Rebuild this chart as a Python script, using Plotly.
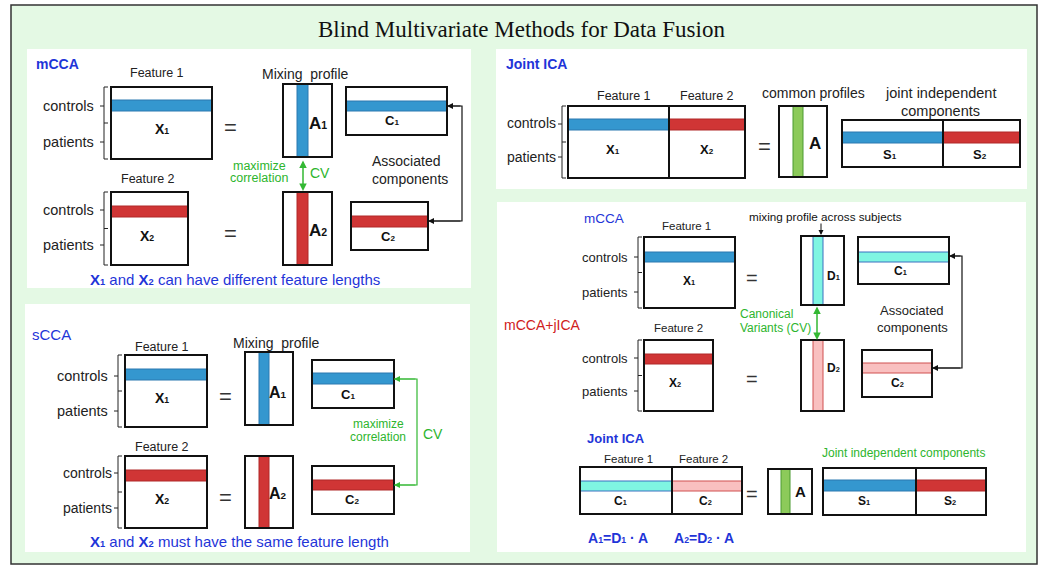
import plotly.graph_objects as go

W, H = 1050, 569
FONT = "Liberation Sans, Arial, sans-serif"
BLUE_TXT = "#1f35d8"
GREEN_TXT = "#2db52d"
RED_TXT = "#d02020"
C_BLUE = "#3497cf"
C_RED = "#d03535"
C_GREEN = "#8cca5a"
C_CYAN = "#7ff5e2"
C_PINK = "#f9c0c0"
EDGE = {C_BLUE: "#2a78b0", C_RED: "#b02828", C_GREEN: "#4a9a30", C_CYAN: "#3a70c0", C_PINK: "#d05050"}


def s(letter, digit, size):
    """Bold letter with a small baseline index digit, as in the reference."""
    return f"<b>{letter}<span style='font-size:{round(size * 0.62, 1)}px'>{digit}</span></b>"


# ---- layout data (diagram coordinates, pixels from top-left) ----
frame = (11, 5, 1037, 564)
panels = [(27, 49, 471, 288), (496, 49, 1027, 189), (25, 304, 470, 552), (497, 202, 1026, 552)]

# boxes: (x0, y0, x1, y1)
boxes = [
    (111, 87, 212, 159), (283, 84, 332, 157), (346, 87, 447, 135),
    (111, 192, 188, 265), (283, 192, 332, 265), (351, 202, 428, 250),
    (568, 106, 669, 178), (669, 106, 745, 178), (779, 106, 827, 177),
    (842, 120, 943, 167), (943, 120, 1020, 167),
    (125, 355, 207, 427), (245, 352, 293, 425), (312, 360, 394, 408),
    (125, 456, 207, 528), (245, 456, 293, 528), (312, 466, 394, 514),
    (644, 237, 735, 308), (801, 236, 844, 305), (858, 237, 949, 284),
    (644, 340, 713, 411), (801, 340, 844, 411), (862, 350, 932, 397),
    (580, 467, 672, 514), (672, 467, 742, 514), (768, 469, 812, 514),
    (823, 468, 916, 515), (916, 468, 986, 515),
]
# horizontal stripes: (x0, x1, y0, y1, colour)
hstripes = [
    (111, 212, 100, 111, C_BLUE), (346, 447, 101, 111, C_BLUE),
    (111, 188, 206, 217, C_RED), (351, 428, 216, 227, C_RED),
    (568, 669, 119, 130, C_BLUE), (669, 745, 119, 130, C_RED),
    (842, 943, 132, 143, C_BLUE), (943, 1020, 132, 143, C_RED),
    (125, 207, 369, 380, C_BLUE), (312, 394, 373, 384, C_BLUE),
    (125, 207, 470, 481, C_RED), (312, 394, 480, 490, C_RED),
    (644, 735, 252, 262, C_BLUE), (858, 949, 252, 262, C_CYAN),
    (644, 713, 354, 364, C_RED), (862, 932, 363, 373, C_PINK),
    (580, 672, 481, 491, C_CYAN), (672, 742, 481, 491, C_PINK),
    (823, 916, 480, 491, C_BLUE), (916, 986, 480, 491, C_RED),
]
# vertical stripes: (x0, x1, y0, y1, colour)
vstripes = [
    (297, 308, 84, 157, C_BLUE), (297, 308, 192, 265, C_RED),
    (793, 803, 106, 177, C_GREEN),
    (259, 269, 352, 425, C_BLUE), (259, 269, 456, 528, C_RED),
    (813, 823, 236, 305, C_CYAN), (813, 823, 340, 411, C_PINK),
    (781, 790, 469, 514, C_GREEN),
]
# brackets: (x, top, bottom, y_controls, y_patients)
brackets = [
    (104, 87, 159, 106, 142), (104, 192, 265, 210, 245),
    (562, 106, 178, 124, 157),
    (118, 355, 427, 376, 411), (118, 456, 528, 473, 508),
    (638, 237, 308, 257, 292), (638, 340, 411, 358, 391),
]
# labels: (text, x, y, size, colour, anchor)
labels = [
    ("<b>mCCA</b>", 34, 64, 14, BLUE_TXT, "left"),
    ("Feature 1", 157, 73, 12.5, "#222", "center"),
    ("Mixing  profile", 305, 74, 14, "#222", "center"),
    (s("X", 1, 14), 162, 129, 14, "#111", "center"),
    ("=", 230, 127, 22, "#333", "center"),
    (s("A", 1, 17), 318, 123, 17, "#111", "center"),
    (s("C", 1, 13), 392, 120, 13, "#111", "center"),
    ("maximize", 259, 166, 12.5, GREEN_TXT, "center"),
    ("correlation", 259, 178, 12.5, GREEN_TXT, "center"),
    ("CV", 320, 173, 14, GREEN_TXT, "center"),
    ("Associated", 406, 161, 14, "#222", "center"),
    ("components", 410, 179, 14, "#222", "center"),
    ("Feature 2", 148, 179, 12.5, "#222", "center"),
    (s("X", 2, 14), 147, 236, 14, "#111", "center"),
    ("=", 230, 233, 22, "#333", "center"),
    (s("A", 2, 17), 318, 230, 17, "#111", "center"),
    (s("C", 2, 13), 388, 236, 13, "#111", "center"),
    (s("X", 1, 15) + " and " + s("X", 2, 15) + " can have different feature lengths", 235, 279, 15, BLUE_TXT, "center"),
    ("<b>Joint ICA</b>", 504, 64, 14, BLUE_TXT, "left"),
    ("Feature 1", 624, 96, 12.5, "#222", "center"),
    ("Feature 2", 707, 96, 12.5, "#222", "center"),
    (s("X", 1, 13), 613, 149, 13, "#111", "center"),
    (s("X", 2, 13), 707, 149, 13, "#111", "center"),
    ("=", 764, 146, 22, "#333", "center"),
    ("<b>A</b>", 815, 143, 17, "#111", "center"),
    ("common profiles", 813, 93, 14, "#222", "center"),
    ("joint independent", 940, 93, 14.5, "#222", "center"),
    ("components", 940, 111, 14.5, "#222", "center"),
    (s("S", 1, 13), 890, 154, 13, "#111", "center"),
    (s("S", 2, 13), 980, 154, 13, "#111", "center"),
    ("sCCA", 30, 334, 15, BLUE_TXT, "left"),
    ("Feature 1", 162, 347, 12.5, "#222", "center"),
    ("Mixing  profile", 276, 343, 14, "#222", "center"),
    (s("X", 1, 14), 162, 398, 14, "#111", "center"),
    ("=", 225, 396, 22, "#333", "center"),
    (s("A", 1, 16), 278, 392, 16, "#111", "center"),
    (s("C", 1, 13), 348, 394, 13, "#111", "center"),
    ("maximize", 378, 424, 12, GREEN_TXT, "center"),
    ("correlation", 378, 437, 12, GREEN_TXT, "center"),
    ("CV", 433, 434, 14, GREEN_TXT, "center"),
    ("Feature 2", 162, 447, 12.5, "#222", "center"),
    (s("X", 2, 14), 162, 499, 14, "#111", "center"),
    ("=", 225, 497, 22, "#333", "center"),
    (s("A", 2, 16), 278, 493, 16, "#111", "center"),
    (s("C", 2, 13), 352, 499, 13, "#111", "center"),
    (s("X", 1, 15) + " and " + s("X", 2, 15) + " must have the same feature length", 239, 541, 15, BLUE_TXT, "center"),
    ("mCCA", 604, 218, 13.5, BLUE_TXT, "center"),
    ("Feature 1", 686, 226, 11.5, "#222", "center"),
    ("mixing profile across subjects", 825, 216, 11.7, "#111", "center"),
    (s("X", 1, 12), 689, 281, 12, "#111", "center"),
    ("=", 752, 278, 20, "#333", "center"),
    (s("D", 1, 12), 833, 276, 12, "#111", "center"),
    (s("C", 1, 12), 900, 271, 12, "#111", "center"),
    ("Canonical", 738, 314, 12, GREEN_TXT, "left"),
    ("Variants (CV)", 738, 328, 12, GREEN_TXT, "left"),
    ("Associated", 912, 310, 13, "#222", "center"),
    ("components", 912, 327, 13, "#222", "center"),
    ("mCCA+jICA", 542, 325, 14, RED_TXT, "center"),
    ("Feature 2", 678, 328, 11.5, "#222", "center"),
    (s("X", 2, 12), 675, 383, 12, "#111", "center"),
    ("=", 752, 379, 20, "#333", "center"),
    (s("D", 2, 12), 833, 368, 12, "#111", "center"),
    (s("C", 2, 12), 897, 383, 12, "#111", "center"),
    ("<b>Joint ICA</b>", 616, 438, 13, BLUE_TXT, "center"),
    ("Feature 1", 628, 459, 11.5, "#222", "center"),
    ("Feature 2", 703, 459, 11.5, "#222", "center"),
    (s("C", 1, 12), 620, 501, 12, "#111", "center"),
    (s("C", 2, 12), 705, 501, 12, "#111", "center"),
    ("=", 752, 494, 20, "#333", "center"),
    ("<b>A</b>", 800, 491, 15, "#111", "center"),
    ("Joint independent components", 903, 453, 12, GREEN_TXT, "center"),
    (s("S", 1, 12), 864, 501, 12, "#111", "center"),
    (s("S", 2, 12), 950, 501, 12, "#111", "center"),
    (s("A", 1, 14) + "<b>=</b>" + s("D", 1, 14) + "<b> · A</b>", 618, 538, 14, BLUE_TXT, "center"),
    (s("A", 2, 14) + "<b>=</b>" + s("D", 2, 14) + "<b> · A</b>", 704, 538, 14, BLUE_TXT, "center"),
]
# side labels "controls"/"patients" (text, right x, y, size)
side_labels = [
    ("controls", 96, 106, 14.5), ("patients", 96, 142, 14.5),
    ("controls", 96, 210, 14.5), ("patients", 96, 245, 14.5),
    ("controls", 558, 123, 14), ("patients", 558, 157, 14),
    ("controls", 110, 376, 14.5), ("patients", 110, 411, 14.5),
    ("controls", 114, 473, 14), ("patients", 114, 508, 14),
    ("controls", 630, 257, 13), ("patients", 630, 292, 13),
    ("controls", 630, 358, 13), ("patients", 630, 391, 13),
]
# connector paths (polyline points) with arrowheads at both ends, colour
connectors = [
    ([(447, 106), (462, 106), (462, 221), (428, 221)], "#111"),
    ([(394, 379), (417, 379), (417, 485), (394, 485)], "#33b833"),
    ([(949, 256), (962, 256), (962, 368), (932, 368)], "#111"),
]
# double-headed vertical arrows: (x, y0, y1, colour)
double_arrows = [(303, 159, 191, "#33b833"), (817, 305, 340, "#33b833")]
title = "Blind Multivariate Methods for Data Fusion"

# ---- build figure ----
shapes = []
shapes.append(dict(type="rect", x0=frame[0], y0=frame[1], x1=frame[2], y1=frame[3],
                   fillcolor="#e4f9e4", line=dict(color="#333", width=1.5), layer="below"))
for (x0, y0, x1, y1) in panels:
    shapes.append(dict(type="rect", x0=x0, y0=y0, x1=x1, y1=y1, fillcolor="white",
                       line=dict(width=0), layer="below"))
for (x0, x1, y0, y1, c) in hstripes + vstripes:
    shapes.append(dict(type="rect", x0=x0, y0=y0, x1=x1, y1=y1, fillcolor=c,
                       line=dict(color=EDGE[c], width=1)))
for (x0, y0, x1, y1) in boxes:
    shapes.append(dict(type="rect", x0=x0, y0=y0, x1=x1, y1=y1, fillcolor="rgba(0,0,0,0)",
                       line=dict(color="#111", width=2)))
for (x, t, b, yc, yp) in brackets:
    mid = (t + b) / 2
    path = (f"M{x+4},{t} L{x},{t} L{x},{b} L{x+4},{b} "
            f"M{x},{mid} L{x+4},{mid} M{x-4},{yc} L{x},{yc} M{x-4},{yp} L{x},{yp}")
    shapes.append(dict(type="path", path=path, line=dict(color="#222", width=1)))
for pts, c in connectors:
    path = "M" + " L".join(f"{px},{py}" for px, py in pts)
    shapes.append(dict(type="path", path=path, line=dict(color=c, width=1.2)))

annotations = []
annotations.append(dict(text=title, x=521, y=29, showarrow=False,
                        font=dict(family="Liberation Serif, Times New Roman, serif", size=23, color="#111")))
for (t, x, y, sz, c, a) in labels:
    annotations.append(dict(text=t, x=x, y=y, showarrow=False, xanchor=a, yanchor="middle",
                            font=dict(family=FONT, size=sz, color=c)))
for (t, x, y, sz) in side_labels:
    annotations.append(dict(text=t, x=x, y=y, showarrow=False, xanchor="right", yanchor="middle",
                            font=dict(family=FONT, size=sz, color="#222")))
for pts, c in connectors:
    for (hx, hy), (tx, ty) in [(pts[0], pts[1]), (pts[-1], pts[-2])]:
        annotations.append(dict(x=hx, y=hy, ax=tx, ay=ty, axref="x", ayref="y", xref="x", yref="y",
                                text="", showarrow=True, arrowhead=2, arrowsize=1, arrowwidth=1.2,
                                arrowcolor=c, standoff=0))
for (x, y0, y1, c) in double_arrows:
    annotations.append(dict(x=x, y=y1, ax=x, ay=y0, axref="x", ayref="y", xref="x", yref="y",
                            text="", showarrow=True, arrowhead=2, startarrowhead=2, arrowside="end+start",
                            arrowsize=1, arrowwidth=1.5, arrowcolor=c))
# small arrow for "mixing profile across subjects"
annotations.append(dict(x=821, y=235, ax=821, ay=222, axref="x", ayref="y", xref="x", yref="y",
                        text="", showarrow=True, arrowhead=2, arrowsize=1, arrowwidth=1, arrowcolor="#111"))

fig = go.Figure()
fig.add_trace(go.Scatter(x=[0, W], y=[0, H], mode="markers", marker=dict(opacity=0), hoverinfo="skip",
                         showlegend=False))
fig.update_layout(
    width=W, height=H, autosize=False, margin=dict(l=0, r=0, t=0, b=0),
    paper_bgcolor="white", plot_bgcolor="white",
    xaxis=dict(range=[0, W], visible=False, fixedrange=True),
    yaxis=dict(range=[H, 0], visible=False, fixedrange=True),
    shapes=shapes, annotations=annotations, showlegend=False,
)
fig.write_html("out.html", config={"displayModeBar": False},
               post_script="document.body.style.margin='0';document.body.style.overflow='hidden';")
